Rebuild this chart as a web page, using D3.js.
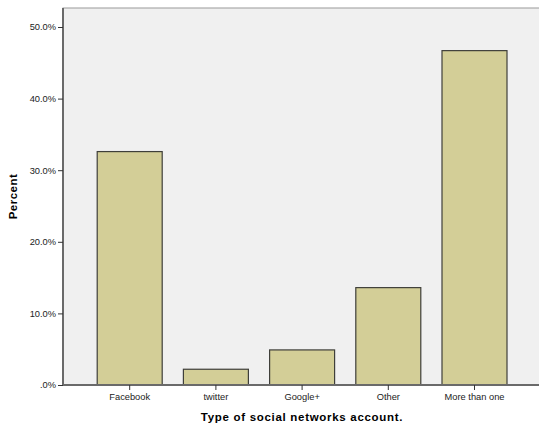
<!DOCTYPE html>
<html>
<head>
<meta charset="utf-8">
<script src="https://cdn.jsdelivr.net/npm/d3@7"></script>
<style>
  body { margin: 0; background: #fff; }
</style>
</head>
<body>
<script>
// chart data
var categories = ["Facebook", "twitter", "Google+", "Other", "More than one"];
var percents = [32.6, 2.2, 4.9, 13.6, 46.7];
var yTicks = [0, 10, 20, 30, 40, 50];

var W = 539, H = 427;
var plotLeft = 63, plotTop = 8, plotRight = 545, plotBottom = 385;

var svg = d3.select("body").append("svg")
    .attr("width", W)
    .attr("height", H);

// plot background
svg.append("rect")
    .attr("x", plotLeft).attr("y", plotTop)
    .attr("width", plotRight - plotLeft).attr("height", plotBottom - plotTop)
    .attr("fill", "#f0f0f0")
    .attr("stroke", "#9a9a9a")
    .attr("stroke-width", 1);

var xScale = d3.scaleBand()
    .domain(categories)
    .range([86.6, 517.6])
    .paddingInner(0.246)
    .paddingOuter(0.123);

var yScale = d3.scaleLinear()
    .domain([0, 50])
    .range([plotBottom, plotBottom - 358]);

// bars
svg.selectAll(".bar")
    .data(percents)
    .enter().append("rect")
    .attr("class", "bar")
    .attr("x", function(d, i) { return xScale(categories[i]); })
    .attr("y", function(d) { return yScale(d); })
    .attr("width", xScale.bandwidth())
    .attr("height", function(d) { return plotBottom - yScale(d); })
    .attr("fill", "#d3ce97")
    .attr("stroke", "#3f3f3a")
    .attr("stroke-width", 1.2);

// y axis
var yAxis = svg.append("g")
    .attr("transform", "translate(" + plotLeft + ",0)")
    .call(d3.axisLeft(yScale)
        .tickValues(yTicks)
        .tickSize(5)
        .tickPadding(2)
        .tickFormat(function(d) { return d === 0 ? ".0%" : d.toFixed(1) + "%"; }));
yAxis.select(".domain").attr("stroke", "#6a6a6a").attr("stroke-width", 2)
    .attr("d", "M0," + plotBottom + "V" + plotTop);
yAxis.selectAll(".tick line").attr("stroke", "#333");
yAxis.selectAll(".tick text").attr("font-size", 9.3).attr("fill", "#222")
    .style("font-family", "'Liberation Sans', Arial, sans-serif");

// x axis
var xAxis = svg.append("g")
    .attr("transform", "translate(0," + plotBottom + ")")
    .call(d3.axisBottom(xScale).tickSize(5).tickPadding(3));
xAxis.select(".domain").attr("stroke", "#6a6a6a").attr("stroke-width", 2)
    .attr("d", "M" + plotLeft + ",0H" + plotRight);
xAxis.selectAll(".tick line").attr("stroke", "#333");
xAxis.selectAll(".tick text").attr("font-size", 9.3).attr("fill", "#222")
    .style("font-family", "'Liberation Sans', Arial, sans-serif");

// axis titles
svg.append("text")
    .attr("x", 302)
    .attr("y", 421)
    .attr("text-anchor", "middle")
    .style("font-family", "'Liberation Sans', Arial, sans-serif")
    .style("font-size", "11.5px")
    .style("font-weight", "bold")
    .style("letter-spacing", "0.7px")
    .text("Type of social networks account.");

svg.append("text")
    .attr("transform", "translate(17," + ((plotTop + plotBottom) / 2) + ") rotate(-90)")
    .attr("text-anchor", "middle")
    .style("font-family", "'Liberation Sans', Arial, sans-serif")
    .style("font-size", "11.5px")
    .style("font-weight", "bold")
    .style("letter-spacing", "0.5px")
    .text("Percent");
</script>
</body>
</html>
